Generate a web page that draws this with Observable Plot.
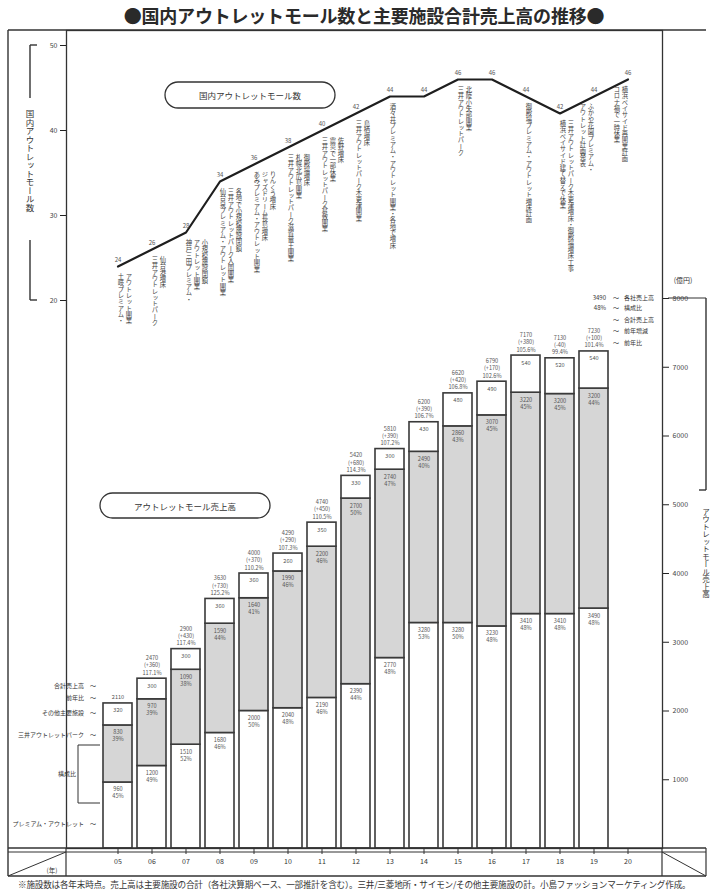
<!DOCTYPE html>
<html><head><meta charset="utf-8">
<script src="https://cdn.jsdelivr.net/npm/d3@7"></script>
<script src="https://cdn.jsdelivr.net/npm/@observablehq/plot@0.6"></script>
<style>
body{margin:0;background:#fff;font-family:"Noto Sans CJK JP",sans-serif;color:#222;}
#wrap{position:relative;width:712px;}
#title{height:28px;line-height:30px;text-align:center;font-size:18px;font-weight:700;color:#2a2a2a;padding-left:16px;box-sizing:border-box;letter-spacing:-0.2px;}
#chart{position:relative;width:712px;height:850px;}
#chart svg{position:absolute;left:0;top:0;}
#caption{font-size:8.6px;color:#333;padding-left:18px;line-height:12px;height:12px;white-space:nowrap;letter-spacing:-0.2px;}
</style></head><body>
<div id="wrap">
<div id="title">●国内アウトレットモール数と主要施設合計売上高の推移●</div>
<div id="chart"></div>
<div id="caption">※施設数は各年末時点。売上高は主要施設の合計（各社決算期ベース、一部推計を含む）。三井/三菱地所・サイモン/その他主要施設の計。小島ファッションマーケティング作成。</div>
</div>
<script>
// ---- data ----
const years = ["05","06","07","08","09","10","11","12","13","14","15","16","17","18","19","20"];
const mallCount = [24,26,28,34,36,38,40,42,44,44,46,46,44,42,44,46];
const salesYears = ["05","06","07","08","09","10","11","12","13","14","15","16","17","18","19"];
const premiumSales = [960,1200,1510,1680,2000,2040,2190,2390,2770,3280,3280,3230,3410,3410,3490];
const mitsuiSales  = [830,970,1090,1590,1640,1990,2200,2700,2740,2490,2860,3070,3220,3200,3200];
const otherSales   = [320,300,300,360,360,260,350,330,300,430,480,490,540,520,540];
const countTicks = [20,30,40,50];
const salesTicks = [1000,2000,3000,4000,5000,6000,7000,8000];
const segKeys = ["premium","mitsui","other"];
const segColors = ["#ffffff","#d6d6d6","#ffffff"];
const openingYears = ["05","06","07","08","09","10","11","12","13","15","17","18","19","20"];
const openingNotes = [
  ["土岐プレミアム・","アウトレット開業"],
  ["三井アウトレットパーク","仙台港増床"],
  ["神戸三田プレミアム・","アウトレット開業","小規模施設閉鎖"],
  ["仙台泉プレミアム・アウトレット開業","三井アウトレットパーク入間開業","各地で小規模施設閉鎖"],
  ["あみプレミアム・アウトレット開業","ジャズドリーム長島増床","りんくう増床"],
  ["三井アウトレットパーク滋賀竜王開業","札幌北広島開業","御殿場増床"],
  ["三井アウトレットパーク倉敷開業","震災で一部休業","佐野増床"],
  ["三井アウトレットパーク木更津開業","鳥栖増床"],
  ["酒々井プレミアム・アウトレット開業・各地で増床"],
  ["三井アウトレットパーク","北陸小矢部開業"],
  ["御殿場プレミアム・アウトレット増床計画"],
  ["横浜ベイサイド建て替えで休業","三井アウトレットパーク木更津増床・御殿場増床工事"],
  ["ふかや花園プレミアム・","アウトレット計画発表"],
  ["横浜ベイサイド再開業計画","コロナ禍で一時休業"]
];
const rightLegendValues = ["3490","48%","","",""];
const rightLegendLabels = ["各社売上高","構成比","合計売上高","前年増減","前年比"];
const leftLegendLabels = ["合計売上高","前年比","その他主要施設","三井アウトレットパーク","構成比","プレミアム・アウトレット"];

// ---- tables ----
const salesRows = [];
salesYears.forEach((y,i)=>{
  const vals=[premiumSales[i],mitsuiSales[i],otherSales[i]];
  const tot=vals[0]+vals[1]+vals[2];
  segKeys.forEach((k,j)=>salesRows.push({year:y,seg:k,value:vals[j],total:tot}));
});
const totals = salesYears.map((y,i)=>({year:y,total:premiumSales[i]+mitsuiSales[i]+otherSales[i]}));
totals.forEach((d,i)=>{
  if(i===0){d.label=String(d.total);}
  else{const p=totals[i-1].total,df=d.total-p;
    d.label=`${d.total}\n(${df>=0?"+":""}${df})\n${(d.total/p*100).toFixed(1)}%`;}
});
const countRows = years.map((y,i)=>({year:y,count:mallCount[i]}));
const noteRows = [];
openingYears.forEach((y,i)=>{
  const c = mallCount[years.indexOf(y)];
  openingNotes[i].forEach((t,j)=>noteRows.push({year:y,count:c,col:j,text:t,left:(y==="19"||y==="20")}));
});
const noteSet = new Set(noteRows.map(d=>d.text));

const FONT='"Noto Sans CJK JP", sans-serif';
const xScale = {type:"band",domain:years,range:[100.5,643.5],paddingInner:0.15,paddingOuter:0};
const base = {width:712,height:850,marginLeft:66,marginRight:50,marginTop:2,marginBottom:30,
  style:{fontFamily:FONT,fontSize:"7px",background:"none",overflow:"visible",color:"#222"}};

// ---- Plot A: sales bars ----
const plotA = Plot.plot({
  ...base,
  x:{...xScale},
  y:{domain:[0,8000],range:[820,270]},
  color:{domain:segKeys,range:segColors},
  marks:[
    Plot.frame({stroke:"#333",strokeWidth:1.3}),
    Plot.barY(salesRows,{x:"year",y:"value",fill:"seg",stroke:"#3a3a3a",strokeWidth:1.6}),
    Plot.text(salesRows,Plot.stackY2({x:"year",y:"value",z:"seg",
      text:d=>d.seg==="other"?String(d.value):`${d.value}\n${Math.round(d.value/d.total*100)}%`,
      lineAnchor:"top",dy:4,fontSize:5.6,fill:"#555",lineHeight:1.25})),
    Plot.text(totals,{x:"year",y:"total",text:"label",lineAnchor:"bottom",dy:-4,fontSize:5.6,fill:"#555",lineHeight:1.3}),
    Plot.axisX(years,{anchor:"bottom",tickSize:6,tickPadding:5,fontSize:7,stroke:"#333",fill:"#333",label:null}),
    Plot.axisY(salesTicks,{anchor:"right",tickSize:6,tickPadding:4,label:null,tickFormat:d=>String(d),fontSize:7,fill:"#444"})
  ]
});

// ---- Plot B: mall count line ----
const plotB = Plot.plot({
  ...base,
  x:{...xScale,axis:null},
  y:{domain:[20,50],range:[272,17]},
  marks:[
    Plot.line(countRows,{x:"year",y:"count",stroke:"#1e1e1e",strokeWidth:2.2}),
    Plot.text(countRows,{x:"year",y:"count",text:d=>String(d.count),dy:-6,fontSize:6,fill:"#555"}),
    ...[0,1,2].map(c=>Plot.text(noteRows.filter(d=>d.col===c&&!d.left),
      {x:"year",y:"count",text:"text",dx:3+c*8,dy:5,textAnchor:"start",fontSize:6.3,fill:"#444"})),
    ...[0,1].map(c=>Plot.text(noteRows.filter(d=>d.col===c&&d.left),
      {x:"year",y:"count",text:"text",dx:-3-c*8,dy:5,textAnchor:"start",fontSize:6.3,fill:"#444"})),
    Plot.axisY(countTicks,{anchor:"left",tickSize:6,tickPadding:3,label:null,fontSize:7,fill:"#444"})
  ]
});

const chart=document.getElementById("chart");
chart.appendChild(plotA);
chart.appendChild(plotB);

d3.select(plotB).selectAll("text").filter(function(){return noteSet.has(this.textContent);})
  .style("writing-mode","vertical-rl").attr("dy",null);

// ---- decorations ----
const g=d3.select(plotA).append("g").attr("fill","none").attr("stroke","#333").attr("stroke-width",1.2);
const L=(x1,y1,x2,y2,w)=>g.append("line").attr("x1",x1).attr("y1",y1).attr("x2",x2).attr("y2",y2).attr("stroke-width",w||1.2);
L(8,2,8,848,1.4); L(8,2,706,2,1.3);
L(8,820,706,820,1.6); L(8,824,706,824,1.2); L(8,848,706,848,1.4);
L(66,820,66,848); L(662,820,662,848); L(706,820,706,848);
L(8,848,66,824,1); L(662,824,706,848,1);
// left bracket
L(30,17,30,70,1.4); L(30,212,30,272,1.4); L(30,17,37,17,1.4); L(30,272,37,272,1.4);
// right bracket
L(706,270,706,462,1.4); L(668,270,706,270,1.2); L(699,462,706,462,1.4);
// rounded boxes
g.append("rect").attr("x",165).attr("y",54).attr("width",170).attr("height",26).attr("rx",13).attr("stroke-width",1.3);
g.append("rect").attr("x",100).attr("y",465).attr("width",170).attr("height",25).attr("rx",12.5).attr("stroke-width",1.3);
// left legend bracket
L(78,717,78,775,1); L(78,717,100,717,1); L(78,775,100,775,1);

const t=d3.select(plotA).append("g").attr("font-family",FONT).attr("fill","#333");
const T=(x,y,s,fs,anchor,vert)=>{const e=t.append("text").attr("x",x).attr("y",y).attr("font-size",fs).attr("text-anchor",anchor||"middle").attr("dominant-baseline","central").text(s); if(vert) e.style("writing-mode","vertical-rl"); return e;};
T(30,82,"国内アウトレットモール数",8.5,"start",true);
T(706,480,"アウトレットモール売上高",7.5,"start",true);
T(250,67,"国内アウトレットモール数",8.5);
T(185,478,"アウトレットモール売上高",8.5);
T(683,252,"(億円)",7);
T(52,842,"(年)",6.5);
const rY=[269,279,291,302,314];
rightLegendValues.forEach((v,i)=>{if(v)T(606,rY[i],v,6,"end");T(616,rY[i],"～",6);T(624,rY[i],rightLegendLabels[i],6,"start");});
const lY=[657,669,684,706,745,795];
leftLegendLabels.forEach((s,i)=>{
  if(i===4){T(76,lY[i],s,6,"end");}
  else{T(84,lY[i],s,6,"end");T(93,lY[i],"～",6);}
});
</script>
</body></html>
